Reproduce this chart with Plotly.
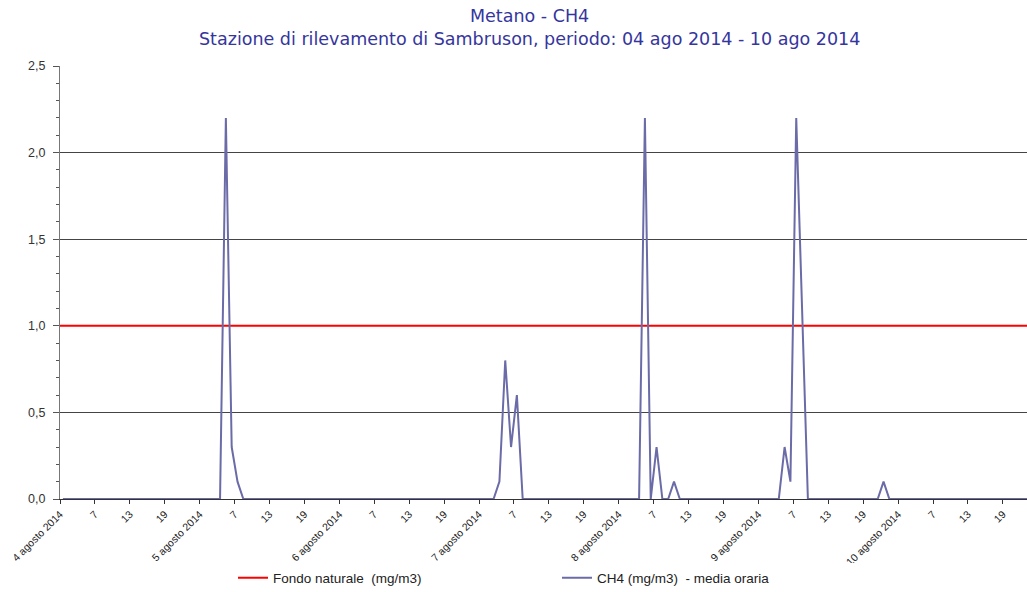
import plotly.graph_objects as go

# Hourly CH4 values (mg/m3), one list per day, hours 1..24
giorni = ["4 agosto 2014", "5 agosto 2014", "6 agosto 2014", "7 agosto 2014",
          "8 agosto 2014", "9 agosto 2014", "10 agosto 2014"]
ch4_04 = [0]*24
ch4_05 = [0, 0, 0, 0, 2.2, 0.3, 0.1, 0, 0, 0, 0, 0, 0, 0, 0, 0, 0, 0, 0, 0, 0, 0, 0, 0]
ch4_06 = [0]*24
ch4_07 = [0, 0, 0, 0.1, 0.8, 0.3, 0.6, 0, 0, 0, 0, 0, 0, 0, 0, 0, 0, 0, 0, 0, 0, 0, 0, 0]
ch4_08 = [0, 0, 0, 0, 2.2, 0, 0.3, 0, 0, 0.1, 0, 0, 0, 0, 0, 0, 0, 0, 0, 0, 0, 0, 0, 0]
ch4_09 = [0, 0, 0, 0, 0.3, 0.1, 2.2, 1.1, 0, 0, 0, 0, 0, 0, 0, 0, 0, 0, 0, 0, 0, 0.1, 0, 0]
ch4_10 = [0]*24
fondo_naturale = 1.0

tick_ore = ["7", "13", "19"]
y_ticks = [0, 0.5, 1.0, 1.5, 2.0, 2.5]
titolo_1 = "Metano - CH4"
titolo_2 = "Stazione di rilevamento di Sambruson, periodo: 04 ago 2014 - 10 ago 2014"

ch4 = ch4_04 + ch4_05 + ch4_06 + ch4_07 + ch4_08 + ch4_09 + ch4_10
ore = list(range(len(ch4)))

x_min, x_max = -0.5, 165.65

tickvals, ticktext = [], []
for d, g in enumerate(giorni):
    for k, lab in enumerate([g] + tick_ore):
        tickvals.append(d*24 + k*6 - 0.5)
        ticktext.append(lab)

fig = go.Figure()
fig.add_trace(go.Scatter(
    x=[x_min, x_max + 5], y=[fondo_naturale, fondo_naturale], mode="lines",
    name="Fondo naturale  (mg/m3)", line=dict(color="#ff0000", width=2)))
fig.add_trace(go.Scatter(
    x=ore, y=ch4, mode="lines",
    name="CH4 (mg/m3)  - media oraria", line=dict(color="#6b6ba8", width=2)))

title_font = dict(family="DejaVu Sans", size=17.5, color="#35359e")
fig.update_layout(
    width=1027, height=592,
    paper_bgcolor="white", plot_bgcolor="white",
    margin=dict(l=60, r=0, t=66, b=93, autoexpand=False),
    separators=",.",
    showlegend=True,
    legend=dict(orientation="h", x=(233-60)/967, xanchor="left",
                y=-(578-499)/433, yanchor="middle",
                entrywidth=279, entrywidthmode="pixels",
                font=dict(family="Liberation Sans", size=13.5, color="#222"),
                itemwidth=30),
    font=dict(family="Liberation Sans", color="#333"),
    annotations=[
        dict(text=titolo_1, x=(529.5-60)/967, y=(499-16)/433, xref="paper", yref="paper",
             xanchor="center", yanchor="middle", showarrow=False, font=title_font),
        dict(text=titolo_2, x=(529.5-60)/967, y=(499-39)/433, xref="paper", yref="paper",
             xanchor="center", yanchor="middle", showarrow=False, font=title_font),
    ],
)
fig.update_xaxes(
    range=[x_min, x_max], tickmode="array", tickvals=tickvals, ticktext=ticktext,
    tickangle=-45, tickfont=dict(size=10.5, color="#222"), automargin=False,
    ticks="outside", ticklen=4, tickcolor="#333",
    showgrid=False, showline=True, linecolor="#333", linewidth=1, zeroline=False)
fig.update_yaxes(
    range=[0, 2.5], tickmode="array", tickvals=y_ticks, tickformat=".1f",
    tickfont=dict(size=12.5, color="#333"), automargin=False, ticklabelstandoff=5,
    ticks="outside", ticklen=6, tickcolor="#555",
    minor=dict(dtick=0.1, ticks="outside", ticklen=3, tickcolor="#555", showgrid=False),
    showgrid=True, gridcolor="#444", gridwidth=1,
    showline=True, linecolor="#777", linewidth=1, zeroline=False)

fig.write_html("out.html", config={"displayModeBar": False},
               post_script="document.body.style.margin='0';document.body.style.overflow='hidden';")
